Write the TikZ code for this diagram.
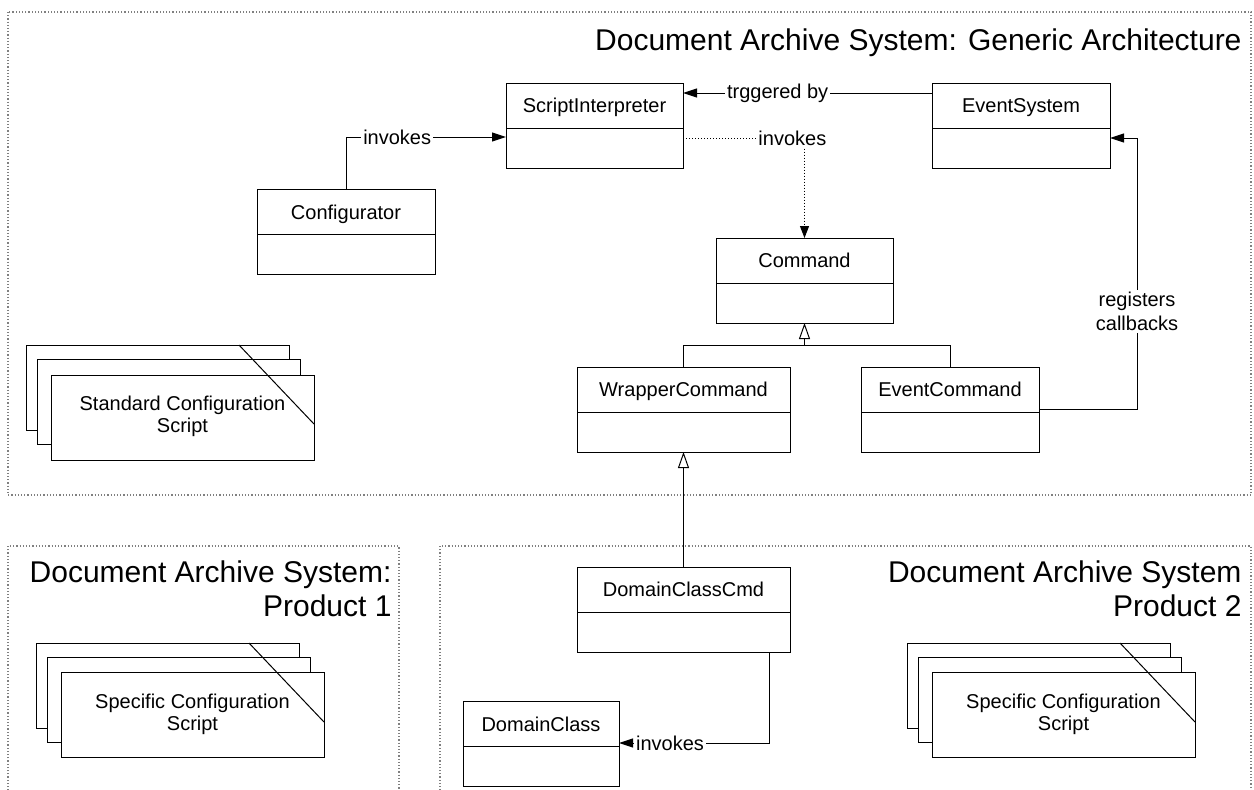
\documentclass[tikz,border=0pt]{standalone}
\usepackage{fontspec}
\setmainfont{Liberation Sans}
\usetikzlibrary{positioning, arrows.meta}

\tikzset{
  classhead/.style={draw, inner sep=0pt, outer sep=0pt, minimum height=22.5pt, text depth=0pt, font=\fontsize{10}{12}\selectfont},
  classbody/.style={draw, inner sep=0pt, outer sep=0pt, minimum height=20pt},
  assoc/.style={-{Triangle[length=7pt, width=4.5pt]}},
  depend/.style={densely dotted, -{Triangle[length=6pt, width=4.5pt]}},
  inherit/.style={-{Triangle[open, length=8pt, width=5.5pt]}},
  lbl/.style={fill=white, inner sep=1pt, font=\fontsize{10}{12}\selectfont},
  frame/.style={gray, densely dotted, line width=0.6pt},
  title/.style={font=\fontsize{15}{17}\selectfont, align=right, inner sep=0pt},
  sheet/.style={draw, fill=white},
  sheettext/.style={align=center, inner sep=0pt, font=\fontsize{10}{11}\selectfont}
}

\begin{document}
\begin{tikzpicture}[x=0.5pt, y=-0.5pt, line width=0.5pt]
\useasboundingbox (0,0) rectangle (1254,789);

% Frames
\draw[frame] (8,12) rectangle (1251,495);
\draw[frame] (8,800) -- (8,546) -- (399,546) -- (399,800);
\draw[frame] (440,800) -- (440,546) -- (1251,546) -- (1251,800);

\node[title, anchor=north east] (archtitle) at (1242,28) {Document Archive System: Generic Architecture};
\node[title, anchor=north east] (prod1title) at (392,560) {Document Archive System:\\Product 1};
\node[title, anchor=north east] (prod2title) at (1242,560) {Document Archive System\\Product 2};

% Classes
\node[classhead, minimum width=88.5pt] (si) at (594.5,105.5) {ScriptInterpreter};
\node[classbody, minimum width=88.5pt, below=0pt of si] (si-b) {};

\node[classhead, minimum width=89pt] (evsys) at (1021,105.5) {EventSystem};
\node[classbody, minimum width=89pt, below=0pt of evsys] (evsys-b) {};

\node[classhead, minimum width=89pt] (conf) at (346,212) {Configurator};
\node[classbody, minimum width=89pt, below=0pt of conf] (conf-b) {};

\node[classhead, minimum width=88.5pt] (cmd) at (804.5,260.5) {Command};
\node[classbody, minimum width=88.5pt, below=0pt of cmd] (cmd-b) {};

\node[classhead, minimum width=106.5pt] (wrap) at (683.5,389.5) {WrapperCommand};
\node[classbody, minimum width=106.5pt, below=0pt of wrap] (wrap-b) {};

\node[classhead, minimum width=89pt] (evcmd) at (950,389.5) {EventCommand};
\node[classbody, minimum width=89pt, below=0pt of evcmd] (evcmd-b) {};

\node[classhead, minimum width=106.5pt] (dccmd) at (683.5,589.5) {DomainClassCmd};
\node[classbody, minimum width=106.5pt, below=0pt of dccmd] (dccmd-b) {};

\node[classhead, minimum width=78pt] (dc) at (541,724) {DomainClass};
\node[classbody, minimum width=78pt, below=0pt of dc] (dc-b) {};

% Connectors
\draw[assoc] (conf.north) |- node[lbl, pos=0.66] {invokes} ([yshift=-4.5pt]si-b.north west);
\draw[assoc] ([yshift=6.25pt]evsys.west) -- node[lbl, pos=0.62] {trggered by} ([yshift=6.25pt]si.east);
\draw[depend] ([yshift=5pt]si-b.east) -| node[lbl, pos=0.45] {invokes} (cmd.north);

\coordinate (bus) at ([yshift=-11pt]cmd-b.south);
\draw (wrap.north) |- (bus) -| (evcmd.north);
\draw[inherit] (bus) -- (cmd-b.south);
\draw[inherit] (dccmd.north) -- (wrap-b.south);

\draw[assoc] ([yshift=-9.75pt]evcmd.east) -- ++(98,0) |- node[lbl, align=center, pos=0.18] {registers\\callbacks} ([yshift=5pt]evsys-b.east);
\draw[assoc] ([xshift=42.75pt]dccmd-b.south) |- node[lbl, pos=0.83] {invokes} ([yshift=-9.5pt]dc.east);

% Script sheets
\draw[sheet] (26,345) rectangle ++(263,85);
\draw[sheet] (37,359) rectangle ++(263,85);
\draw[sheet] (51,375) rectangle ++(263,85);
\draw (239,345) -- (314,424);
\node[sheettext] (stdscript) at (182.5,416) {Standard Configuration\\Script};

\draw[sheet] (36,643) rectangle ++(263,85);
\draw[sheet] (47,657) rectangle ++(263,85);
\draw[sheet] (61,672) rectangle ++(263,85);
\draw (249,643) -- (324,722);
\node[sheettext] (p1script) at (192.5,714.5) {Specific Configuration\\Script};

\draw[sheet] (907,643) rectangle ++(263,85);
\draw[sheet] (918,657) rectangle ++(263,85);
\draw[sheet] (932,672) rectangle ++(263,85);
\draw (1120,643) -- (1195,722);
\node[sheettext] (p2script) at (1063.5,714.5) {Specific Configuration\\Script};
\end{tikzpicture}
\end{document}
